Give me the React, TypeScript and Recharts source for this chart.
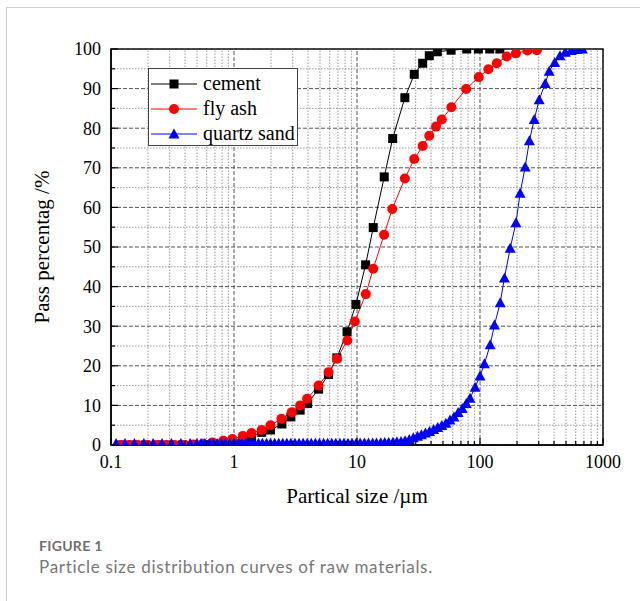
import { LineChart, Line, XAxis, YAxis, ReferenceLine, ReferenceArea } from 'recharts'

// particle size (µm) and cumulative pass percentage (%)
const cementSize = [0.12, 0.15, 0.19, 0.24, 0.3, 0.38, 0.47, 0.58, 0.7, 0.82, 0.97, 1.18, 1.39, 1.68, 1.98, 2.45, 2.9, 3.45, 3.97, 4.87, 5.87, 6.86, 8.3, 9.8, 11.75, 13.55, 16.65, 19.5, 24.5, 29.2, 34.2, 38.7, 45, 58.2, 78, 97, 120, 145]
const cementPass = [0, 0, 0, 0, 0, 0, 0, 0.1, 0.2, 0.3, 0.6, 1.2, 2.0, 3.2, 3.8, 5.3, 7.1, 8.8, 10.5, 14.1, 17.8, 22.0, 28.6, 35.5, 45.5, 54.9, 67.7, 77.4, 87.7, 93.6, 96.4, 98.3, 99.3, 99.7, 100, 100, 100, 100]

const flyAshSize = [0.12, 0.14, 0.165, 0.2, 0.24, 0.28, 0.33, 0.4, 0.47, 0.56, 0.67, 0.82, 0.97, 1.18, 1.39, 1.68, 1.98, 2.43, 2.95, 3.45, 3.93, 4.87, 5.87, 6.86, 8.35, 9.6, 11.8, 13.55, 16.6, 19.35, 24.5, 29.2, 34.2, 38.7, 43.9, 48.9, 58.5, 77.1, 97.8, 117, 137, 165, 196, 243, 290]
const flyAshPass = [0, 0, 0, 0, 0, 0, 0, 0, 0.1, 0.3, 0.6, 1.1, 1.5, 2.3, 3.0, 3.8, 5.0, 6.6, 8.3, 10.0, 11.7, 15.0, 18.4, 21.8, 26.4, 31.2, 38.1, 44.5, 53.1, 59.6, 67.3, 72.2, 75.5, 78.1, 80.4, 82.2, 85.3, 89.9, 92.9, 94.9, 96.4, 98.1, 98.9, 99.6, 99.7]

const quartzSize = [0.11, 0.13, 0.155, 0.185, 0.22, 0.26, 0.31, 0.37, 0.44, 0.5, 0.54, 0.58, 0.63, 0.68, 0.73, 0.79, 0.85, 0.92, 1.0, 1.08, 1.16, 1.25, 1.35, 1.46, 1.58, 1.7, 1.84, 1.98, 2.14, 2.31, 2.49, 2.69, 2.9, 3.13, 3.38, 3.65, 3.94, 4.25, 4.59, 4.95, 5.35, 5.77, 6.23, 6.72, 7.26, 7.83, 8.45, 9.12, 9.85, 10.6, 11.5, 12.4, 13.4, 14.4, 15.6, 16.8, 18.1, 19.6, 21.1, 22.8, 24.6, 26.6, 28.7, 31, 33.4, 36, 38.9, 42, 45.3, 48.9, 52.8, 57, 61.5, 66.4, 71.7, 77.3, 83, 91.2, 100, 108.6, 121, 131, 146, 158, 176, 196, 212, 233, 252, 276, 303, 339, 365, 405, 447, 493, 552, 614, 680]
const quartzPass = [0.4, 0.4, 0.4, 0.4, 0.4, 0.4, 0.4, 0.4, 0.4, 0.4, 0.4, 0.4, 0.4, 0.4, 0.4, 0.4, 0.45, 0.45, 0.45, 0.45, 0.45, 0.45, 0.45, 0.45, 0.45, 0.45, 0.45, 0.45, 0.45, 0.45, 0.45, 0.45, 0.45, 0.45, 0.45, 0.45, 0.45, 0.45, 0.45, 0.45, 0.45, 0.45, 0.45, 0.45, 0.45, 0.45, 0.45, 0.45, 0.45, 0.5, 0.5, 0.5, 0.5, 0.5, 0.55, 0.6, 0.65, 0.7, 0.8, 0.9, 1.1, 1.4, 1.8, 2.2, 2.6, 3.0, 3.4, 3.9, 4.4, 4.9, 5.5, 6.3, 7.1, 8.2, 9.2, 10.5, 11.8, 14.6, 17.4, 20.5, 25.3, 30.3, 35.9, 42.2, 49.7, 56.1, 63.6, 70.2, 76.8, 82.2, 87.2, 91.3, 94.4, 96.6, 98.3, 99.2, 99.6, 99.9, 100]

const xTicks = [0.1, 0.2, 0.3, 0.4, 0.5, 0.6, 0.7, 0.8, 0.9, 1, 2, 3, 4, 5, 6, 7, 8, 9, 10, 20, 30, 40, 50, 60, 70, 80, 90, 100, 200, 300, 400, 500, 600, 700, 800, 900, 1000]
const xMajor = [0.1, 1, 10, 100, 1000]
const yTicks = [0, 5, 10, 15, 20, 25, 30, 35, 40, 45, 50, 55, 60, 65, 70, 75, 80, 85, 90, 95, 100]

const cement = cementSize.map((s, i) => ({ size: s, pass: cementPass[i] }))
const flyAsh = flyAshSize.map((s, i) => ({ size: s, pass: flyAshPass[i] }))
const quartz = quartzSize.map((s, i) => ({ size: s, pass: quartzPass[i] }))

const serif = '"Liberation Serif", "Times New Roman", serif'
const sans = 'Lato, "Open Sans", sans-serif'
const TICK_MARGIN = 10

const Square = (p: any) => (p.cx == null ? <g key={p.key} /> : <rect key={p.key} x={p.cx - 4.5} y={p.cy - 4.5} width={9} height={9} fill="#000" />)
const Dot = (p: any) => (p.cx == null ? <g key={p.key} /> : <circle key={p.key} cx={p.cx} cy={p.cy} r={5} fill="#ff0000" />)
const Tri = (p: any) =>
  p.cx == null ? <g key={p.key} /> : <polygon key={p.key} points={`${p.cx},${p.cy - 5.5} ${p.cx - 5.5},${p.cy + 4.5} ${p.cx + 5.5},${p.cy + 4.5}`} fill="#0000ff" />

const XTick = ({ x, y, payload }: any) => {
  const major = xMajor.includes(payload.value)
  const axisY = y - TICK_MARGIN
  return (
    <g>
      <line x1={x} x2={x} y1={axisY} y2={axisY - (major ? 7 : 4)} stroke="#000" strokeWidth={1.2} />
      {major && (
        <text x={x} y={y} dy="0.71em" textAnchor="middle" fontFamily={serif} fontSize={18} fill="#000">
          {payload.value}
        </text>
      )}
    </g>
  )
}

const YTick = ({ x, y, payload }: any) => {
  const major = payload.value % 10 === 0
  const axisX = x + TICK_MARGIN
  return (
    <g>
      <line x1={axisX} x2={axisX + (major ? 7 : 4)} y1={y} y2={y} stroke="#000" strokeWidth={1.2} />
      {major && (
        <text x={x} y={y} dy="0.35em" textAnchor="end" fontFamily={serif} fontSize={18} fill="#000">
          {payload.value}
        </text>
      )}
    </g>
  )
}

const legendItems = [
  { name: 'cement', color: '#000', shape: 'square' },
  { name: 'fly ash', color: '#ff0000', shape: 'circle' },
  { name: 'quartz sand', color: '#0000ff', shape: 'triangle' },
]

export default function App() {
  return (
    <div style={{ position: 'absolute', left: 0, top: 0, width: 640, height: 601, background: '#fff', overflow: 'hidden' }}>
      <div style={{ position: 'absolute', left: 6, top: 7, width: 700, height: 700, borderLeft: '1px solid #cfcfcf', borderTop: '1px solid #cfcfcf' }} />
      <LineChart width={640} height={520} margin={{ top: 49, right: 37, bottom: 0, left: 0 }} style={{ position: 'absolute', left: 0, top: 0 }}>
        {xTicks.map(v => (
          <ReferenceLine key={'x' + v} x={v} stroke={xMajor.includes(v) ? '#555' : '#999'} strokeDasharray={xMajor.includes(v) ? '4 2' : '1.5 1.5'} />
        ))}
        {yTicks.map(v => (
          <ReferenceLine key={'y' + v} y={v} stroke={v % 10 === 0 ? '#555' : '#999'} strokeDasharray={v % 10 === 0 ? '4 2' : '1.5 1.5'} />
        ))}
        <XAxis
          dataKey="size"
          type="number"
          scale="log"
          domain={[0.1, 1000]}
          ticks={xTicks}
          interval={0}
          allowDataOverflow
          height={75}
          tickSize={0}
          tickMargin={TICK_MARGIN}
          tick={<XTick />}
          axisLine={{ stroke: '#000', strokeWidth: 1.5 }}
          label={{ value: 'Partical size /µm', position: 'insideBottom', offset: 17, style: { fontFamily: serif, fontSize: 21, fill: '#000' } }}
        />
        <YAxis
          dataKey="pass"
          type="number"
          domain={[0, 100]}
          ticks={yTicks}
          interval={0}
          allowDataOverflow
          width={111}
          tickSize={0}
          tickMargin={TICK_MARGIN}
          tick={<YTick />}
          axisLine={{ stroke: '#000', strokeWidth: 1.5 }}
          label={{ value: 'Pass percentag /%', angle: -90, position: 'insideLeft', offset: 42, style: { textAnchor: 'middle', fontFamily: serif, fontSize: 21, fill: '#000' } }}
        />
        <Line data={cement} dataKey="pass" stroke="#000" strokeWidth={1} dot={Square} activeDot={false} isAnimationActive={false} />
        <Line data={flyAsh} dataKey="pass" stroke="#ff0000" strokeWidth={1} dot={Dot} activeDot={false} isAnimationActive={false} />
        <Line data={quartz} dataKey="pass" stroke="#0000ff" strokeWidth={1} dot={Tri} activeDot={false} isAnimationActive={false} />
        <ReferenceArea x1={0.1} x2={1000} y1={0} y2={100} fill="none" stroke="#000" strokeWidth={1.5} fillOpacity={0} />
      </LineChart>

      <div style={{ position: 'absolute', left: 148, top: 68, width: 150, height: 78, border: '1px solid #444', background: '#fff', boxSizing: 'border-box', paddingTop: 2 }}>
        {legendItems.map(it => (
          <div key={it.name} style={{ display: 'flex', alignItems: 'center', height: 25 }}>
            <svg width={48} height={14} style={{ marginLeft: 2 }}>
              <line x1={0} x2={46} y1={7} y2={7} stroke={it.color} strokeWidth={1} />
              {it.shape === 'square' && <rect x={18.5} y={2.5} width={9} height={9} fill={it.color} />}
              {it.shape === 'circle' && <circle cx={23} cy={7} r={5} fill={it.color} />}
              {it.shape === 'triangle' && <polygon points="23,1.5 17.5,11.5 28.5,11.5" fill={it.color} />}
            </svg>
            <span style={{ fontFamily: serif, fontSize: 20, color: '#000', marginLeft: 4, lineHeight: '25px' }}>{it.name}</span>
          </div>
        ))}
      </div>

      <div style={{ position: 'absolute', left: 39, top: 538, fontFamily: sans, fontSize: 14, fontWeight: 700, color: '#6e6e6e', lineHeight: 1.2, letterSpacing: 0.3 }}>FIGURE 1</div>
      <div style={{ position: 'absolute', left: 39, top: 557, fontFamily: sans, fontSize: 17, color: '#777', lineHeight: 1.2, whiteSpace: 'nowrap', letterSpacing: 0.7 }}>
        Particle size distribution curves of raw materials.
      </div>
    </div>
  )
}
